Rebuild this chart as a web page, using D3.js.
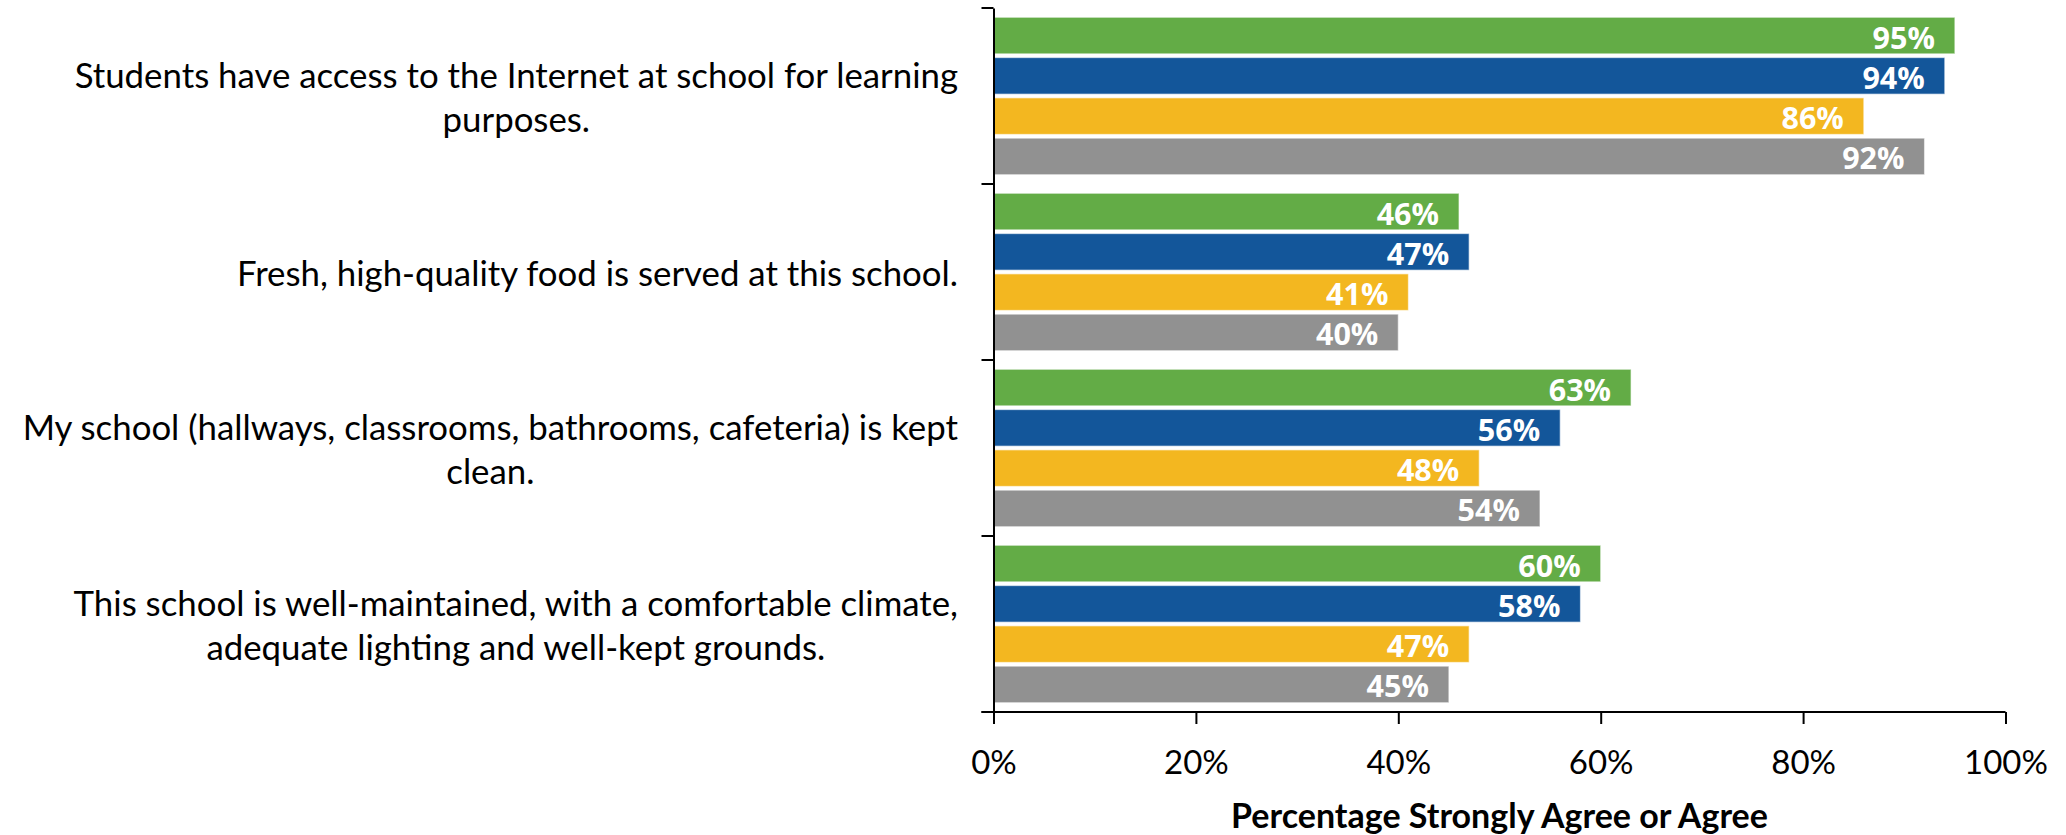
<!DOCTYPE html>
<html>
<head>
<meta charset="utf-8">
<script src="https://cdn.jsdelivr.net/npm/d3@7"></script>
<style>
  html, body { margin: 0; padding: 0; background: #fff; }
  svg { display: block; }
</style>
</head>
<body>
<svg id="chart" width="2066" height="835"></svg>
<script>
// ---- data ----
const categories = [
  "Students have access to the Internet at school for learning purposes.",
  "Fresh, high-quality food is served at this school.",
  "My school (hallways, classrooms, bathrooms, cafeteria) is kept clean.",
  "This school is well-maintained, with a comfortable climate, adequate lighting and well-kept grounds."
];
const categoryLines = [
  ["Students have access to the Internet at school for learning", "purposes."],
  ["Fresh, high-quality food is served at this school."],
  ["My school (hallways, classrooms, bathrooms, cafeteria) is kept", "clean."],
  ["This school is well-maintained, with a comfortable climate,", "adequate lighting and well-kept grounds."]
];
const seriesNames = ["Series 1", "Series 2", "Series 3", "Series 4"];
const series1 = [95, 46, 63, 60];
const series2 = [94, 47, 56, 58];
const series3 = [86, 41, 48, 47];
const series4 = [92, 40, 54, 45];
const seriesValues = [series1, series2, series3, series4];
const xTicks = [0, 20, 40, 60, 80, 100];
const xTitle = "Percentage Strongly Agree or Agree";
const colors = ["#63ac46", "#13569a", "#f3b720", "#919191"];

(function () {
// ---- layout ----
const svg = d3.select("#chart");
const mLeft = 993.5, mRight = 2005.5, mTop = 8, mBottom = 712;

const x = d3.scaleLinear().domain([0, 100]).range([mLeft, mRight]);
const y0 = d3.scaleBand().domain(categories).range([mTop, mBottom]).padding(0);
const y1 = d3.scaleBand().domain(seriesNames).range([0, y0.bandwidth()])
  .paddingInner(0.092).paddingOuter(0.23);
const color = d3.scaleOrdinal().domain(seriesNames).range(colors);

const rows = [];
categories.forEach((c, i) => {
  seriesNames.forEach((s, j) => rows.push({ cat: c, ser: s, value: seriesValues[j][i] }));
});

// bars
const gBars = svg.append("g");
gBars.selectAll("rect").data(rows).join("rect")
  .attr("x", x(0))
  .attr("y", d => y0(d.cat) + y1(d.ser))
  .attr("width", d => x(d.value) - x(0))
  .attr("height", y1.bandwidth())
  .attr("fill", d => color(d.ser))
  .attr("stroke", "rgba(255,255,255,0.55)")
  .attr("stroke-width", 1.2);

// value labels
gBars.selectAll("text").data(rows).join("text")
  .attr("x", d => x(d.value) - 20)
  .attr("y", d => y0(d.cat) + y1(d.ser) + y1.bandwidth() / 2 + 13)
  .attr("text-anchor", "end")
  .attr("fill", "#fff")
  .attr("font-family", "'Open Sans', sans-serif")
  .attr("font-weight", "bold")
  .attr("font-size", 30.5)
  .text(d => d.value + "%");

// x axis
const xAxis = d3.axisBottom(x).tickValues(xTicks).tickFormat(d => d + "%")
  .tickSize(12).tickSizeOuter(0);
const gx = svg.append("g").attr("transform", `translate(0,${mBottom})`).call(xAxis);
gx.select(".domain").remove();
gx.append("line").attr("x1", mLeft - 12).attr("x2", mRight).attr("y1", 0).attr("y2", 0)
  .attr("stroke", "#000").attr("stroke-width", 2);
gx.selectAll(".tick line").attr("stroke", "#000").attr("stroke-width", 2);
gx.selectAll(".tick text")
  .attr("y", 62).attr("dy", null)
  .attr("fill", "#000")
  .attr("font-family", "Lato, sans-serif")
  .attr("font-size", 33);

// y axis
const yAxis = d3.axisLeft(y0).tickValues([]).tickSizeOuter(0);
const gy = svg.append("g").attr("transform", `translate(${mLeft},0)`).call(yAxis);
gy.select(".domain").attr("stroke", "#000").attr("stroke-width", 2);
const boundaries = categories.map(c => y0(c)).concat([mBottom]);
gy.selectAll("line.bt").data(boundaries).join("line").attr("class", "bt")
  .attr("x1", -12).attr("x2", 0).attr("y1", d => d).attr("y2", d => d)
  .attr("stroke", "#000").attr("stroke-width", 2);

// category labels (wrapped, centered block, right-aligned)
const labelRight = 958, lh = 43.5;
const gl = svg.append("g");
categories.forEach((c, i) => {
  const lines = categoryLines[i];
  const cy = y0(c) + y0.bandwidth() / 2;
  const t = gl.append("text")
    .attr("font-family", "Lato, sans-serif")
    .attr("font-size", 34.8)
    .attr("fill", "#000")
    .attr("text-anchor", "middle");
  lines.forEach((ln, k) => {
    t.append("tspan").attr("y", cy + (k - (lines.length - 1) / 2) * lh + 14).text(ln);
  });
  let maxW = 0;
  t.selectAll("tspan").each(function () { maxW = Math.max(maxW, this.getComputedTextLength()); });
  t.selectAll("tspan").attr("x", labelRight - maxW / 2);
});

// x axis title
svg.append("text")
  .attr("x", (mLeft + mRight) / 2)
  .attr("y", 828)
  .attr("text-anchor", "middle")
  .attr("font-family", "Lato, sans-serif")
  .attr("font-weight", "bold")
  .attr("font-size", 34)
  .attr("fill", "#000")
  .text(xTitle);
})();
</script>
</body>
</html>
